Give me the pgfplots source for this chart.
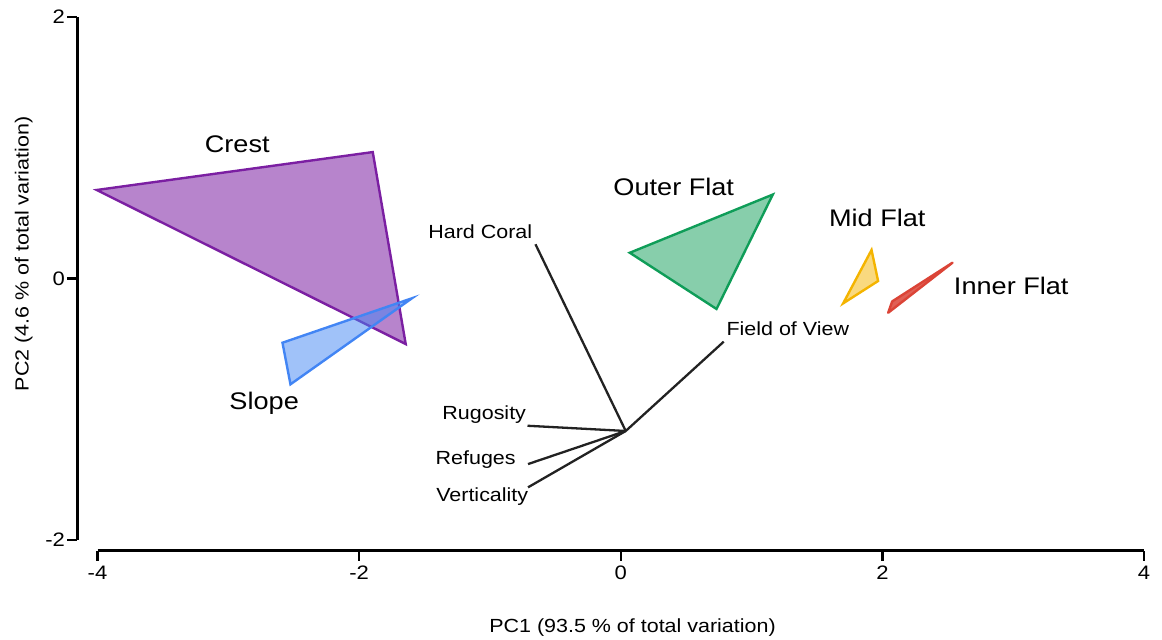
\documentclass[border=0pt]{standalone}
\usepackage{fontspec}
\setmainfont{Liberation Sans}[FakeStretch=1.13]
\usepackage{pgfplots}
\pgfplotsset{compat=1.18}
\definecolor{crestE}{HTML}{7B1FA2}
\definecolor{slopeE}{HTML}{4285F4}
\definecolor{outerE}{HTML}{0F9D58}
\definecolor{midE}{HTML}{F4B400}
\definecolor{innerE}{HTML}{DB4437}
\definecolor{vec}{HTML}{222222}
\begin{document}
\begin{tikzpicture}
\begin{axis}[name=ax, scale only axis, width=1066.5pt, height=533.5pt,
  xmin=-4.153, xmax=4, ymin=-2.080, ymax=2, clip=false,
  axis x line=bottom, axis y line=left, axis line style={draw=none},
  xtick={-4,-2,0,2,4}, xticklabels={-4,-2,0,2,4},
  ytick={-2,0,2}, yticklabels={-2,0,2},
  tick align=outside, major tick length=10pt,
  every tick/.style={black, line width=2.5pt},
  tick label style={font=\fontsize{19.5}{22}\selectfont},
  yticklabel style={xshift=1pt},
  xticklabel style={yshift=-2pt},
  xlabel={PC1 (93.5 \% of total variation)},
  ylabel={PC2 (4.6 \% of total variation)},
  every axis x label/.style={at={(axis description cs:0.5204,-0.1528)}, anchor=base, font=\fontsize{19}{22}\selectfont},
  every axis y label/.style={at={(axis description cs:-0.0459,0.5558)}, anchor=base, rotate=90, font=\fontsize{19}{22}\selectfont},
]
% axis lines (offset, R style)
\draw[black, line width=2.5pt] (axis cs:-4,-2.080) -- (axis cs:4,-2.080);
\draw[black, line width=2.5pt] (axis cs:-4.153,-2) -- (axis cs:-4.153,2);

% hulls
\addplot[draw=crestE, fill=crestE, fill opacity=0.55, line width=2.4pt] coordinates {(-4.006,0.677) (-1.896,0.967) (-1.644,-0.501)} -- cycle;
\addplot[draw=slopeE, fill=slopeE, fill opacity=0.5, line width=2.4pt] coordinates {(-2.586,-0.491) (-2.525,-0.809) (-1.596,-0.151)} -- cycle;
\addplot[draw=outerE, fill=outerE, fill opacity=0.5, line width=2.4pt] coordinates {(0.069,0.197) (1.162,0.642) (0.732,-0.233)} -- cycle;
\addplot[draw=midE, fill=midE, fill opacity=0.5, line width=2.4pt] coordinates {(1.917,0.218) (1.967,-0.019) (1.700,-0.190)} -- cycle;
\addplot[draw=innerE, fill=innerE, fill opacity=0.85, line width=2.4pt, line join=round] coordinates {(2.536,0.121) (2.075,-0.175) (2.044,-0.262)} -- cycle;

% vectors
\addplot[vec, line width=2.3pt] coordinates {(0.038,-1.166) (-0.652,0.262)};
\addplot[vec, line width=2.3pt] coordinates {(0.038,-1.166) (0.787,-0.483)};
\addplot[vec, line width=2.3pt] coordinates {(0.038,-1.166) (-0.713,-1.126)};
\addplot[vec, line width=2.3pt] coordinates {(0.038,-1.166) (-0.709,-1.419)};
\addplot[vec, line width=2.3pt] coordinates {(0.038,-1.166) (-0.709,-1.597)};

% group labels
\begin{scope}[every node/.style={anchor=base, font=\fontsize{24}{28}\selectfont}]
\node at (axis cs:-2.932,0.960) {Crest};
\node at (axis cs:0.405,0.633) {Outer Flat};
\node at (axis cs:1.961,0.396) {Mid Flat};
\node at (axis cs:2.985,-0.119) {Inner Flat};
\node at (axis cs:-2.726,-0.998) {Slope};
\end{scope}
% variable labels
\begin{scope}[every node/.style={anchor=base, font=\fontsize{19}{22}\selectfont}]
\node at (axis cs:-1.074,0.308) {Hard Coral};
\node at (axis cs:1.277,-0.432) {Field of View};
\node at (axis cs:-1.044,-1.075) {Rugosity};
\node at (axis cs:-1.109,-1.419) {Refuges};
\node at (axis cs:-1.059,-1.707) {Verticality};
\end{scope}
\end{axis}
\path (ax.south west) ++(-77.5pt,-85.5pt) rectangle ++(1162pt,636pt);
\end{tikzpicture}
\end{document}
